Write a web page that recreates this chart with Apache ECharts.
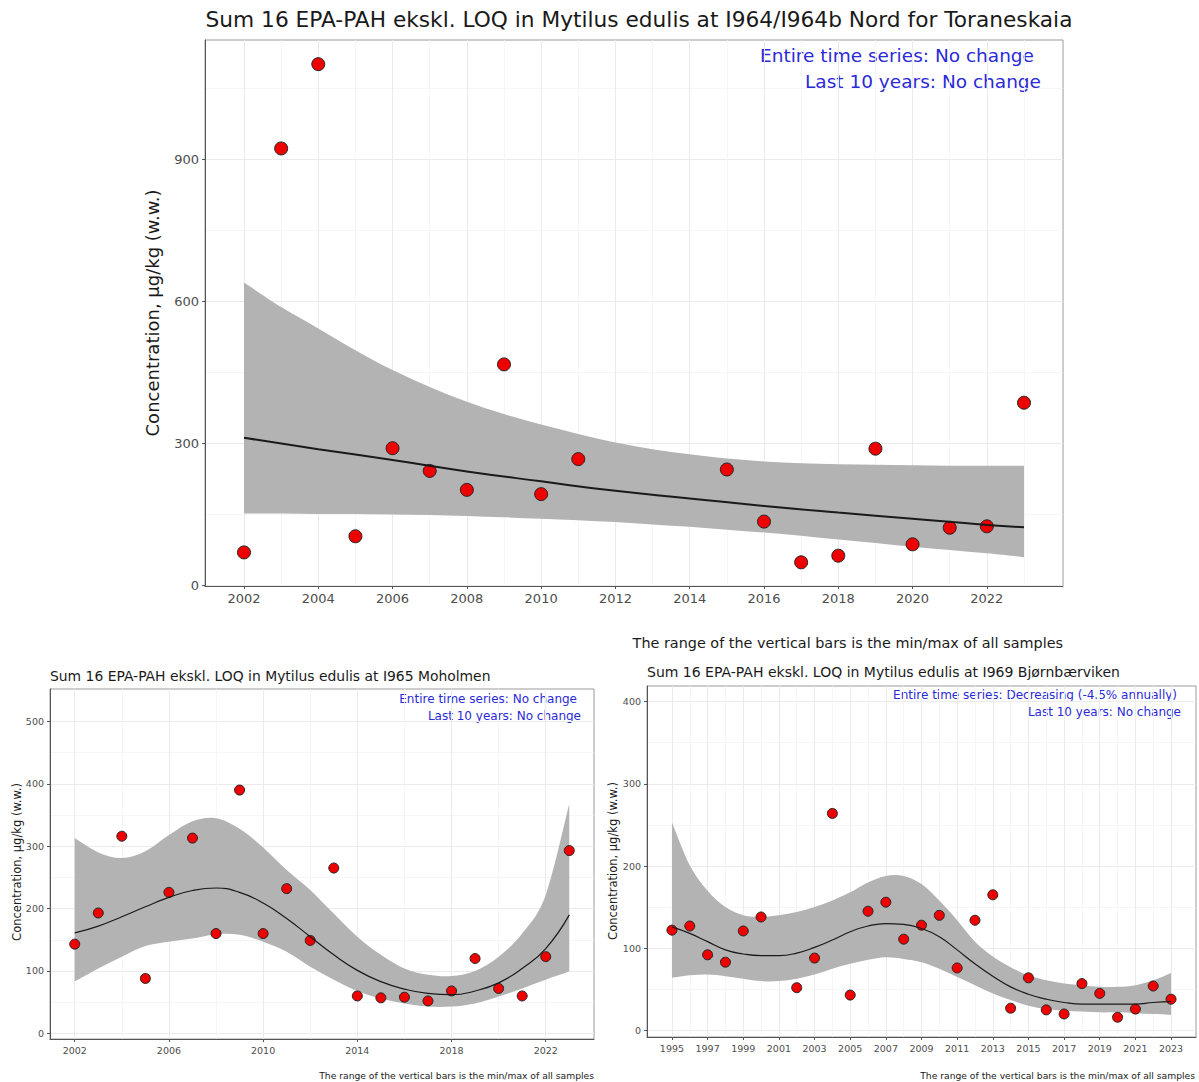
<!DOCTYPE html>
<html>
<head>
<meta charset="utf-8">
<script src="https://cdn.jsdelivr.net/npm/echarts@6/dist/echarts.min.js"></script>
<style>
html, body { margin: 0; padding: 0; background: #fff; }
#chart { width: 1199px; height: 1082px; }
</style>
</head>
<body>
<div id="chart"></div>
<script>
// I964/I964b Nord for Toraneskaia
var topYears = [2002, 2003, 2004, 2005, 2006, 2007, 2008, 2009, 2010, 2011, 2015, 2016, 2017, 2018, 2019, 2020, 2021, 2022, 2023];
var topConc = [70, 923, 1101, 104, 290, 242, 202, 467, 193, 267, 245, 135, 49, 63, 289, 87, 122, 125, 386];
var topFitYears = [2002, 2004, 2006, 2008, 2010, 2012, 2014, 2016, 2018, 2020, 2022, 2023];
var topFit = [312, 288, 265, 241, 220, 200, 184, 168, 154, 141, 128, 123];
var topBandYears = [2002, 2003, 2004, 2005, 2006, 2007, 2008, 2009, 2010, 2011, 2012, 2013, 2014, 2015, 2016, 2017, 2018, 2019, 2020, 2021, 2022, 2023];
var topLower = [152, 152, 151, 151, 150, 149, 147, 144, 141, 138, 134, 129, 124, 118, 112, 105, 97, 90, 82, 75, 68, 60];
var topUpper = [640, 588, 543, 497, 455, 419, 388, 362, 340, 320, 302, 288, 277, 268, 262, 258, 256, 255, 254, 253, 253, 253];

// I965 Moholmen
var mohYears = [2002, 2003, 2004, 2005, 2006, 2007, 2008, 2009, 2010, 2011, 2012, 2013, 2014, 2015, 2016, 2017, 2018, 2019, 2020, 2021, 2022, 2023];
var mohConc = [143, 193, 316, 88, 226, 313, 160, 390, 160, 232, 149, 265, 60, 57, 58, 52, 68, 120, 72, 60, 123, 293];
var mohFit = [161, 172, 187, 203, 218, 229, 233, 226, 209, 184, 155, 126, 101, 83, 71, 64, 62, 68, 81, 104, 136, 190];
var mohLower = [83, 104, 123, 140, 147, 152, 159, 158, 147, 131, 107, 86, 68, 56, 48, 43, 43, 48, 59, 72, 86, 99];
var mohUpper = [313, 290, 281, 292, 318, 340, 345, 328, 298, 262, 230, 192, 155, 126, 104, 94, 92, 100, 123, 160, 222, 368];

// I969 Bjørnbærviken
var bjoYears = [1995, 1996, 1997, 1998, 1999, 2000, 2002, 2003, 2004, 2005, 2006, 2007, 2008, 2009, 2010, 2011, 2012, 2013, 2014, 2015, 2016, 2017, 2018, 2019, 2020, 2021, 2022, 2023];
var bjoConc = [122, 127, 92, 83, 121, 138, 52, 88, 264, 43, 145, 156, 111, 128, 140, 76, 134, 165, 27, 64, 25, 20, 57, 45, 16, 26, 54, 38];
var bjoFitYears = [1995, 1996, 1997, 1998, 1999, 2000, 2001, 2002, 2003, 2004, 2005, 2006, 2007, 2008, 2009, 2010, 2011, 2012, 2013, 2014, 2015, 2016, 2017, 2018, 2019, 2020, 2021, 2022, 2023];
var bjoFit = [126, 118, 108, 98, 93, 91, 91, 94, 101, 110, 120, 127, 130, 129, 124, 114, 98, 81, 66, 53, 44, 38, 34, 32, 32, 32, 32, 34, 35];
var bjoLower = [64, 67, 68, 66, 63, 60, 60, 63, 68, 75, 81, 86, 89, 87, 83, 75, 65, 55, 45, 37, 30, 26, 24, 23, 22, 22, 21, 20, 19];
var bjoUpper = [253, 201, 170, 150, 140, 138, 140, 144, 150, 158, 168, 180, 188, 188, 178, 158, 134, 108, 90, 77, 67, 61, 57, 55, 53, 53, 55, 61, 70];

// tick labels
var topXTicks = [2002, 2004, 2006, 2008, 2010, 2012, 2014, 2016, 2018, 2020, 2022];
var topXMinor = [2003, 2005, 2007, 2009, 2011, 2013, 2015, 2017, 2019, 2021, 2023];
var topYTicks = [0, 300, 600, 900];
var topYMinor = [150, 450, 750, 1050];
var mohXTicks = [2002, 2006, 2010, 2014, 2018, 2022];
var mohXMinor = [2004, 2008, 2012, 2016, 2020];
var mohYTicks = [0, 100, 200, 300, 400, 500];
var mohYMinor = [50, 150, 250, 350, 450];
var bjoXTicks = [1995, 1997, 1999, 2001, 2003, 2005, 2007, 2009, 2011, 2013, 2015, 2017, 2019, 2021, 2023];
var bjoXMinor = [1996, 1998, 2000, 2002, 2004, 2006, 2008, 2010, 2012, 2014, 2016, 2018, 2020, 2022];
var bjoYTicks = [0, 100, 200, 300, 400];
var bjoYMinor = [50, 150, 250, 350];

var FONT = '"DejaVu Sans", "Noto Sans", sans-serif';
var ylab = 'Concentration, \u00b5g/kg (w.w.)';
var caption = 'The range of the vertical bars is the min/max of all samples';

var chart = echarts.init(document.getElementById('chart'), null, {renderer: 'svg'});

function pairs(xs, ys) {
    return xs.map(function (x, i) { return [x, ys[i]]; });
}

var grids = [
    {left: 205, top: 40, width: 858, height: 546},
    {left: 50, top: 689, width: 544, height: 350},
    {left: 647, top: 686, width: 549, height: 351}
];
var xAxes = [], yAxes = [], series = [];

function addAxes(gi, xr, yr, xt, xm, yt, ym, fs) {
    var lab = {color: '#4d4d4d', fontSize: fs, fontFamily: FONT, margin: 6, formatter: function (v) { return String(v); }};
    xAxes.push({
        type: 'value', gridIndex: gi, min: xr[0], max: xr[1], position: 'bottom',
        axisLine: {onZero: false, lineStyle: {color: '#555', width: 1}},
        axisTick: {length: 3, lineStyle: {color: '#555'}, customValues: xt},
        axisLabel: Object.assign({customValues: xt}, lab),
        splitLine: {show: true, lineStyle: {color: '#ebebeb', width: 1}}
    });
    xAxes.push({
        type: 'value', gridIndex: gi, min: xr[0], max: xr[1], position: 'top',
        axisLine: {show: false}, axisTick: {show: false, customValues: xm},
        axisLabel: {show: false, customValues: xm},
        splitLine: {show: true, lineStyle: {color: '#f4f4f4', width: 0.8}}
    });
    yAxes.push({
        type: 'value', gridIndex: gi, min: yr[0], max: yr[1], position: 'left',
        axisLine: {show: true, onZero: false, lineStyle: {color: '#555', width: 1}},
        axisTick: {show: true, length: 3, lineStyle: {color: '#555'}, customValues: yt},
        axisLabel: Object.assign({customValues: yt}, lab),
        splitLine: {show: true, lineStyle: {color: '#ebebeb', width: 1}}
    });
    yAxes.push({
        type: 'value', gridIndex: gi, min: yr[0], max: yr[1], position: 'right',
        axisLine: {show: false}, axisTick: {show: false, customValues: ym},
        axisLabel: {show: false, customValues: ym},
        splitLine: {show: true, lineStyle: {color: '#f4f4f4', width: 0.8}}
    });
}

// smooth curve segments (Catmull-Rom as cubic bezier) through pixel points
function curve(pts) {
    var d = '';
    for (var i = 0; i < pts.length - 1; i++) {
        var p0 = pts[i - 1] || pts[i], p1 = pts[i], p2 = pts[i + 1], p3 = pts[i + 2] || p2;
        var c1 = [p1[0] + (p2[0] - p0[0]) / 6, p1[1] + (p2[1] - p0[1]) / 6];
        var c2 = [p2[0] - (p3[0] - p1[0]) / 6, p2[1] - (p3[1] - p1[1]) / 6];
        d += ' C' + c1[0].toFixed(2) + ',' + c1[1].toFixed(2) + ' ' + c2[0].toFixed(2) + ',' + c2[1].toFixed(2) +
            ' ' + p2[0].toFixed(2) + ',' + p2[1].toFixed(2);
    }
    return d;
}

// confidence band: upper edge left->right, then lower edge back
function bandRender(params, api) {
    if (params.dataIndexInside !== 0) return null;
    var n = params.dataInsideLength;
    var up = [], lo = [];
    for (var i = 0; i < n; i++) {
        up.push(api.coord([api.value(0, i), api.value(2, i)]));
        lo.unshift(api.coord([api.value(0, i), api.value(1, i)]));
    }
    var d = 'M' + up[0][0].toFixed(2) + ',' + up[0][1].toFixed(2) + curve(up) +
        ' L' + lo[0][0].toFixed(2) + ',' + lo[0][1].toFixed(2) + curve(lo) + ' Z';
    return {type: 'path', shape: {pathData: d}, style: {fill: '#b3b3b3', stroke: null}};
}

function addSeries(gi, bandYears, lower, upper, fitYears, fit, years, conc, lw, size) {
    var xi = gi * 2, yi = gi * 2;
    series.push({
        type: 'custom', xAxisIndex: xi, yAxisIndex: yi, silent: true, clip: true,
        data: bandYears.map(function (y, i) { return [y, lower[i], upper[i]]; }),
        encode: {x: 0, y: [1, 2]},
        renderItem: bandRender
    });
    series.push({
        type: 'line', xAxisIndex: xi, yAxisIndex: yi, smooth: true,
        data: pairs(fitYears, fit), symbol: 'none', silent: true,
        lineStyle: {color: '#1a1a1a', width: lw}
    });
    series.push({
        type: 'scatter', xAxisIndex: xi, yAxisIndex: yi,
        data: pairs(years, conc), symbol: 'circle', symbolSize: size,
        itemStyle: {color: '#ee0000', borderColor: '#262626', borderWidth: 1, opacity: 1}
    });
}

addAxes(0, [2000.95, 2024.05], [-1, 1152], topXTicks, topXMinor, topYTicks, topYMinor, 13);
addAxes(1, [2000.95, 2024.05], [-9, 552], mohXTicks, mohXMinor, mohYTicks, mohYMinor, 9.5);
addAxes(2, [1993.6, 2024.4], [-8, 419], bjoXTicks, bjoXMinor, bjoYTicks, bjoYMinor, 9.5);

addSeries(0, topBandYears, topLower, topUpper, topFitYears, topFit, topYears, topConc, 2, 13);
addSeries(1, mohYears, mohLower, mohUpper, mohYears, mohFit, mohYears, mohConc, 1.2, 10);
addSeries(2, bjoFitYears, bjoLower, bjoUpper, bjoFitYears, bjoFit, bjoYears, bjoConc, 1.2, 10);

function txt(x, y, s, size, color, align, rot) {
    return {
        type: 'text', x: x, y: y, rotation: rot || 0, silent: true,
        style: {text: s, font: size + 'px ' + FONT, fill: color, textAlign: align, textVerticalAlign: 'middle'}
    };
}
var blue = '#2a2ad8';

var option = {
    backgroundColor: '#fff',
    animation: false,
    grid: grids.map(function (g) {
        return Object.assign({show: true, borderColor: '#9a9a9a', borderWidth: 1, backgroundColor: 'transparent'}, g);
    }),
    xAxis: xAxes,
    yAxis: yAxes,
    series: series,
    graphic: [
        txt(639, 19, 'Sum 16 EPA-PAH ekskl. LOQ in Mytilus edulis at I964/I964b Nord for Toraneskaia', 21.7, '#1a1a1a', 'center'),
        txt(1034, 55, 'Entire time series: No change', 18.5, blue, 'right'),
        txt(1041, 81, 'Last 10 years: No change', 18.5, blue, 'right'),
        txt(152, 313, ylab, 18, '#1a1a1a', 'center', Math.PI / 2),
        txt(1063, 643, caption, 14.4, '#1a1a1a', 'right'),

        txt(50, 676, 'Sum 16 EPA-PAH ekskl. LOQ in Mytilus edulis at I965 Moholmen', 13.9, '#1a1a1a', 'left'),
        txt(577, 699, 'Entire time series: No change', 12, blue, 'right'),
        txt(581, 716, 'Last 10 years: No change', 12, blue, 'right'),
        txt(17, 862, ylab, 11.5, '#1a1a1a', 'center', Math.PI / 2),
        txt(594, 1075, caption, 9.2, '#1a1a1a', 'right'),

        txt(647, 672, 'Sum 16 EPA-PAH ekskl. LOQ in Mytilus edulis at I969 Bj\u00f8rnb\u00e6rviken', 14, '#1a1a1a', 'left'),
        txt(1177, 695, 'Entire time series: Decreasing (-4.5% annually)', 12, blue, 'right'),
        txt(1181, 712, 'Last 10 years: No change', 12, blue, 'right'),
        txt(613, 861, ylab, 11.5, '#1a1a1a', 'center', Math.PI / 2),
        txt(1195, 1075, caption, 9.2, '#1a1a1a', 'right')
    ]
};
chart.setOption(option);
</script>
</body>
</html>
